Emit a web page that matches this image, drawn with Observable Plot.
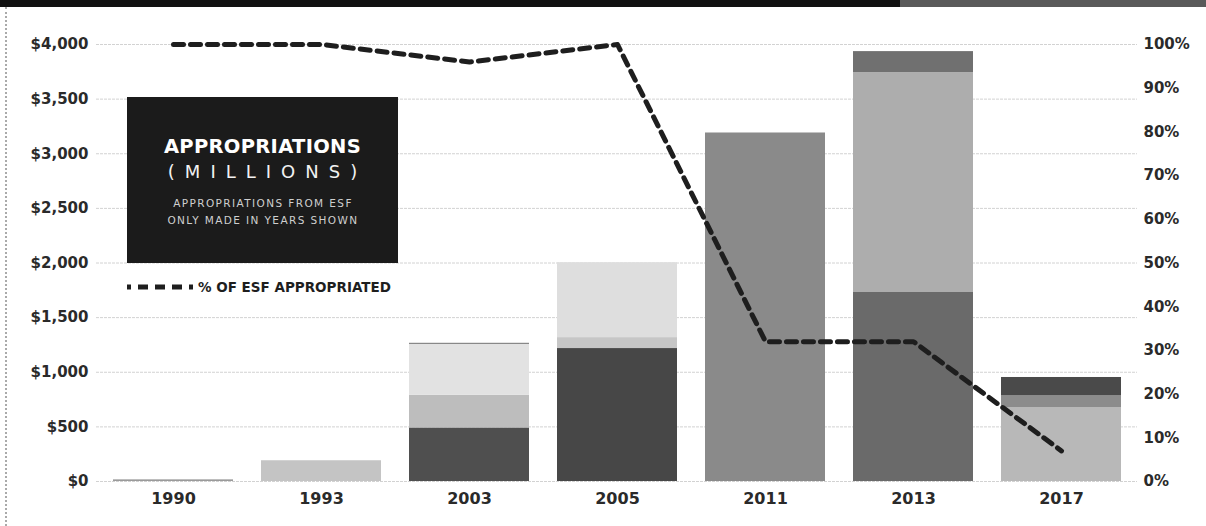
<!DOCTYPE html>
<html>
<head>
<meta charset="utf-8">
<script src="https://cdn.jsdelivr.net/npm/d3@7"></script>
<script src="https://cdn.jsdelivr.net/npm/@observablehq/plot@0.6"></script>
<style>
  html, body { margin: 0; padding: 0; background: #fff; }
  body { width: 1206px; height: 526px; overflow: hidden; position: relative; font-family: "DejaVu Sans", sans-serif; }
  #topband { position: absolute; left: 0; top: 0; width: 1206px; height: 7px; background: linear-gradient(to right, #111 0, #111 900px, #5a5a5a 900px, #5a5a5a 100%); }
  #edge { position: absolute; left: 5px; top: 7px; height: 519px; border-left: 2px dotted #aaa; }
  #chart { position: absolute; left: 0; top: 7px; }
  #box { position: absolute; left: 127px; top: 97px; width: 271px; height: 166px; background: #1b1b1b; color: #fff; text-align: center; }
  #box .t1 { position: absolute; left: 0; right: 0; top: 38px; font-weight: bold; font-size: 19.5px; letter-spacing: 0.3px; }
  #box .t2 { position: absolute; left: 0; right: 0; top: 64px; font-size: 18px; letter-spacing: 10px; padding-left: 10px; color: #f2f2f2; }
  #box .t3 { position: absolute; left: 0; right: 0; top: 98px; font-size: 10.5px; line-height: 17px; color: #cfcfcf; letter-spacing: 1.4px; padding-left: 1px; }
  #legend { position: absolute; left: 127px; top: 279px; display: flex; align-items: center; }
  #legend span { font-weight: bold; font-size: 13.5px; color: #1e1e1e; margin-left: 3px; }
</style>
</head>
<body>
<div id="topband"></div>
<div id="edge"></div>
<div id="chart"></div>
<div id="box">
  <div class="t1">APPROPRIATIONS</div>
  <div class="t2">(MILLIONS)</div>
  <div class="t3">APPROPRIATIONS FROM ESF<br>ONLY MADE IN YEARS SHOWN</div>
</div>
<div id="legend">
  <svg width="68" height="10"><line x1="0" y1="5" x2="68" y2="5" stroke="#1e1e1e" stroke-width="5" stroke-dasharray="4,7,10,7,10,7,10,7"></line></svg>
  <span>% OF ESF APPROPRIATED</span>
</div>
<script>
// ---- data ----
const years = ["1990", "1993", "2003", "2005", "2011", "2013", "2017"];
// stacked segments (millions of $), bottom to top
const layer1 = [15, 190, 490, 1217, 3190, 1730, 677];
const layer2 = [0, 0, 300, 100, 0, 2013, 110];
const layer3 = [0, 0, 465, 686, 0, 192, 165];
const layer4 = [0, 0, 10, 0, 0, 0, 0];
// % of ESF appropriated
const pctAppropriated = [100, 100, 96, 100, 32, 32, 7];
const dollarTicks = [0, 500, 1000, 1500, 2000, 2500, 3000, 3500, 4000];
const pctTicks = [0, 10, 20, 30, 40, 50, 60, 70, 80, 90, 100];

// ---- styles ----
const layerFills = [
  ["#9a9a9a", "#c4c4c4", "#4f4f4f", "#474747", "#8a8a8a", "#6a6a6a", "#b8b8b8"],
  ["#ccc", "#ccc", "#bdbdbd", "#c6c6c6", "#8a8a8a", "#adadad", "#8c8c8c"],
  ["#ddd", "#ddd", "#e2e2e2", "#dedede", "#8a8a8a", "#707070", "#4a4a4a"],
  ["#777", "#777", "#7a7a7a", "#777", "#777", "#777", "#777"]
];

const layers = [layer1, layer2, layer3, layer4];
const rows = [];
years.forEach((year, i) => {
  layers.forEach((layer, j) => {
    if (layer[i] > 0) rows.push({year, layer: j, value: layer[i], fill: layerFills[j][i]});
  });
});
const lineRows = years.map((year, i) => ({year, pct: pctAppropriated[i]}));
const pctToDollar = 4000 / 100;

const chart = Plot.plot({
  width: 1206,
  height: 519,
  marginTop: 37,
  marginBottom: 45,
  marginLeft: 96,
  marginRight: 69,
  style: {fontFamily: "DejaVu Sans, sans-serif", fontWeight: "bold", background: "transparent"},
  x: {domain: years, paddingInner: 0.19, paddingOuter: 0.095, axis: null, label: null},
  y: {domain: [0, 4000], axis: null, label: null},
  color: {type: "identity"},
  marks: [
    Plot.gridY(dollarTicks, {stroke: "#d2d2d2", strokeOpacity: 1, strokeWidth: 1, strokeDasharray: "3,1"}),
    Plot.barY(rows, {x: "year", y: "value", fill: "fill"}),
    Plot.line(lineRows, {x: "year", y: d => d.pct * pctToDollar, stroke: "#1e1e1e", strokeWidth: 5, strokeDasharray: "10,7"}),
    Plot.axisY({ticks: dollarTicks, tickFormat: d3.format("$,"), anchor: "left", tickSize: 0, tickPadding: 8, fontSize: 15, fill: "#2a2a2a", label: null}),
    Plot.axisY({ticks: pctTicks.map(p => p * pctToDollar), tickFormat: d => `${d / pctToDollar}%`, anchor: "right", tickSize: 0, tickPadding: 6, fontSize: 15, fill: "#2a2a2a", label: null}),
    Plot.axisX({tickSize: 0, tickPadding: 11, fontSize: 16, fill: "#2a2a2a", label: null})
  ]
});
document.getElementById("chart").appendChild(chart);
</script>
</body>
</html>
